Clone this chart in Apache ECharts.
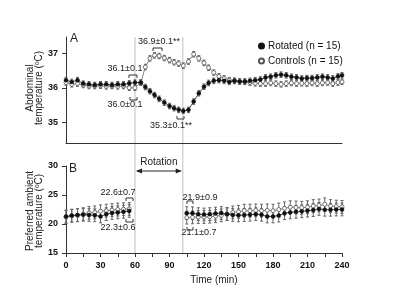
<!DOCTYPE html>
<html>
<head>
<meta charset="utf-8">
<script src="https://cdn.jsdelivr.net/npm/echarts@6/dist/echarts.min.js"></script>
<style>
  html, body { margin: 0; padding: 0; background: #fff; }
  #chart { width: 400px; height: 301px; }
</style>
</head>
<body>
<div id="chart"></div>
<script>
// panel A: abdominal temperature (min)
var timeA = [0, 5, 10, 15, 20, 25, 30, 35, 40, 45, 50, 55, 60,
  65, 69, 73, 77, 81, 85.5, 90, 94, 98, 102,
  106.5, 111, 115.5, 120, 124, 128.5, 133, 137.5, 142, 146.5,
  151, 155.5, 160, 164.5, 169, 173.5, 178, 182.5, 187, 191.5,
  196, 200.5, 205, 209.5, 214, 218.5, 223, 227.5, 232, 236.5, 240]
var rotatedA = [36.22, 36.17, 36.22, 36.12, 36.1, 36.08, 36.1, 36.1, 36.08, 36.1, 36.1, 36.13, 36.15,
  36.15, 36.02, 35.9, 35.79, 35.68, 35.57, 35.47, 35.41, 35.36, 35.33,
  35.36, 35.6, 35.84, 36.03, 36.14, 36.2, 36.22, 36.2, 36.17, 36.2,
  36.18, 36.18, 36.2, 36.22, 36.24, 36.3, 36.32, 36.36, 36.38, 36.36,
  36.32, 36.3, 36.27, 36.28, 36.28, 36.3, 36.32, 36.3, 36.27, 36.33, 36.36]
var controlsA = [36.15, 36.1, 36.12, 36.08, 36.05, 36.05, 36.06, 36.04, 36.05, 36.04, 36.05, 36.0, 36.0,
  36.15, 36.6, 36.85, 36.94, 36.92, 36.86, 36.8, 36.74, 36.7, 36.64,
  36.76, 36.97, 36.85, 36.72, 36.58, 36.44, 36.33, 36.27, 36.22, 36.2,
  36.18, 36.17, 36.15, 36.13, 36.12, 36.12, 36.14, 36.12, 36.1, 36.12,
  36.14, 36.12, 36.13, 36.12, 36.14, 36.12, 36.14, 36.15, 36.12, 36.15, 36.17]
var errA = 0.08

// panel B: preferred ambient temperature, before / after rotation
var timeB1 = [0, 5, 10, 15, 20, 25, 30, 35, 40, 45, 50, 55]
var rotatedB1 = [21.3, 21.45, 21.55, 21.6, 21.55, 21.5, 21.3, 21.7, 21.9, 22.0, 22.1, 22.25]
var controlsB1 = [21.2, 21.4, 21.5, 21.7, 21.9, 22.0, 22.2, 22.3, 22.4, 22.5, 22.55, 22.6]
var timeB2 = [105, 110, 115, 120, 125, 130, 135, 140, 145, 150, 155, 160, 165, 170,
  175, 180, 185, 190, 195, 200, 205, 210, 215, 220, 225, 230, 235, 240]
var rotatedB2 = [21.87, 21.85, 21.7, 21.64, 21.7, 21.8, 21.9, 21.7, 21.55, 21.5, 21.55, 21.6, 21.7, 21.6,
  21.3, 21.3, 21.45, 21.85, 22.0, 22.1, 22.2, 22.3, 22.4, 22.6, 22.45, 22.45, 22.5, 22.5]
var controlsB2 = [21.1, 21.15, 21.2, 21.2, 21.25, 21.35, 21.5, 21.7, 22.0, 22.1, 22.3, 22.3, 22.35, 22.3,
  22.35, 22.3, 22.5, 22.7, 22.9, 22.85, 22.8, 22.9, 23.1, 23.2, 23.4, 23.1, 23.0, 22.95]
var errB = 1.1

var ticksA = [35, 36, 37]
var rotation = [60, 101.5]

var font = 'Liberation Sans, Arial, sans-serif'

function pairs (t, v) {
  return t.map(function (x, i) { return [x, v[i]] })
}
function errPairs (t, v, e) {
  return t.map(function (x, i) { return [x, v[i], e] })
}

function errBar (params, api) {
  var x = api.value(0)
  var y = api.value(1)
  var e = api.value(2)
  var top = api.coord([x, y + e])
  var bot = api.coord([x, y - e])
  var st = { stroke: '#666', lineWidth: 1 }
  return {
    type: 'group',
    children: [
      { type: 'line', shape: { x1: top[0], y1: top[1], x2: bot[0], y2: bot[1] }, style: st },
      { type: 'line', shape: { x1: top[0] - 1.5, y1: top[1], x2: top[0] + 1.5, y2: top[1] }, style: st },
      { type: 'line', shape: { x1: bot[0] - 1.5, y1: bot[1], x2: bot[0] + 1.5, y2: bot[1] }, style: st }
    ]
  }
}

var filled = { color: '#111', borderColor: '#111', borderWidth: 0.5 }
var open = { color: '#fff', borderColor: '#555', borderWidth: 0.8 }

function lineSeries (name, data, xi, style) {
  return {
    name: name,
    type: 'line',
    xAxisIndex: xi,
    yAxisIndex: xi,
    data: data,
    symbol: 'circle',
    symbolSize: 4,
    showSymbol: true,
    itemStyle: style,
    lineStyle: { color: style === filled ? '#222' : '#666', width: 0.8 },
    z: style === filled ? 4 : 3,
    animation: false
  }
}

function errSeries (data, xi) {
  return {
    type: 'custom',
    xAxisIndex: xi,
    yAxisIndex: xi,
    data: data,
    renderItem: errBar,
    z: 2,
    animation: false
  }
}

var axisLabelStyle = { color: '#111', fontWeight: 'bold', fontSize: 9, fontFamily: font }
var axisLine = { show: true, lineStyle: { color: '#333', width: 1 } }

var myChart = echarts.init(document.getElementById('chart'))
myChart.setOption({
  animation: false,
  textStyle: { fontFamily: font },
  grid: [
    { left: 66, right: 58, top: 37, height: 106 },
    { left: 66, right: 58, top: 166, height: 87 }
  ],
  legend: {
    orient: 'vertical',
    left: 253,
    top: 36,
    icon: 'circle',
    itemWidth: 5,
    itemHeight: 5,
    itemGap: 5,
    data: ['Rotated (n = 15)', 'Controls (n = 15)'],
    textStyle: { color: '#111', fontSize: 10, fontFamily: font, padding: [0, 0, 0, -1] }
  },
  xAxis: [
    {
      type: 'value', gridIndex: 0, min: 0, max: 240,
      axisLine: axisLine, axisTick: { show: false }, axisLabel: { show: false },
      splitLine: { show: false }
    },
    {
      type: 'value', gridIndex: 1, min: 0, max: 240, interval: 15,
      axisLine: axisLine,
      axisTick: { show: true, length: 4, lineStyle: { color: '#333' } },
      axisLabel: Object.assign({
        margin: 8,
        formatter: function (v) { return v % 30 === 0 ? v : '' }
      }, axisLabelStyle),
      splitLine: { show: false }
    }
  ],
  yAxis: [
    {
      type: 'value', gridIndex: 0, min: 34.4, max: 37.47,
      axisLine: axisLine,
      axisTick: { show: true, length: 4, customValues: ticksA, lineStyle: { color: '#333' } },
      axisLabel: Object.assign({ margin: 8, customValues: ticksA }, axisLabelStyle),
      splitLine: { show: false }
    },
    {
      type: 'value', gridIndex: 1, min: 15, max: 30, interval: 5,
      axisLine: axisLine,
      axisTick: { show: true, length: 4, lineStyle: { color: '#333' } },
      axisLabel: Object.assign({ margin: 8 }, axisLabelStyle),
      splitLine: { show: false }
    }
  ],
  series: [
    errSeries(errPairs(timeA, controlsA, errA), 0),
    errSeries(errPairs(timeA, rotatedA, errA), 0),
    lineSeries('Controls (n = 15)', pairs(timeA, controlsA), 0, open),
    lineSeries('Rotated (n = 15)', pairs(timeA, rotatedA), 0, filled),
    errSeries(errPairs(timeB1, controlsB1, errB), 1),
    errSeries(errPairs(timeB1, rotatedB1, errB), 1),
    errSeries(errPairs(timeB2, controlsB2, errB), 1),
    errSeries(errPairs(timeB2, rotatedB2, errB), 1),
    lineSeries('Controls (n = 15)', pairs(timeB1, controlsB1), 1, open),
    lineSeries('Rotated (n = 15)', pairs(timeB1, rotatedB1), 1, filled),
    lineSeries('Controls (n = 15)', pairs(timeB2, controlsB2), 1, open),
    lineSeries('Rotated (n = 15)', pairs(timeB2, rotatedB2), 1, filled)
  ]
})

// rotation window lines + annotations
var xa = myChart.convertToPixel({ xAxisIndex: 1 }, rotation[0])
var xb = myChart.convertToPixel({ xAxisIndex: 1 }, rotation[1])
var topA = 37
var botB = 253
var ay = 171

function txt (text, x, y, size, align) {
  return {
    type: 'text', x: x, y: y, z: 10,
    style: { text: text, fill: '#222', font: (size || 9) + 'px ' + font, align: align || 'center', verticalAlign: 'middle' }
  }
}
function yTitle (text, x, y) {
  return {
    type: 'text', x: x, y: y, rotation: Math.PI / 2, z: 10,
    style: { text: text, fill: '#222', font: '10px ' + font, lineHeight: 9, align: 'center', verticalAlign: 'middle' }
  }
}
function bracket (x1, x2, y, up) {
  var d = up ? 3 : -3
  return {
    type: 'polyline', z: 10,
    shape: { points: [[x1, y + d], [x1, y], [x2, y], [x2, y + d]] },
    style: { stroke: '#333', lineWidth: 1, fill: null }
  }
}

myChart.setOption({
  graphic: [
    { type: 'line', z: 0, shape: { x1: xa, y1: topA, x2: xa, y2: botB }, style: { stroke: '#d4d4d4', lineWidth: 1.5 } },
    { type: 'line', z: 0, shape: { x1: xb, y1: topA, x2: xb, y2: botB }, style: { stroke: '#d4d4d4', lineWidth: 1.5 } },
    { type: 'line', z: 10, shape: { x1: xa + 2, y1: ay, x2: xb - 2, y2: ay }, style: { stroke: '#222', lineWidth: 1 } },
    { type: 'polygon', z: 10, shape: { points: [[xa + 1, ay], [xa + 7, ay - 2.5], [xa + 7, ay + 2.5]] }, style: { fill: '#222' } },
    { type: 'polygon', z: 10, shape: { points: [[xb - 1, ay], [xb - 7, ay - 2.5], [xb - 7, ay + 2.5]] }, style: { fill: '#222' } },
    yTitle('Abdominal\ntemperature (ºC)', 35, 88),
    yTitle('Preferred ambient\ntemperature (ºC)', 35, 211),
    txt('Rotation', (xa + xb) / 2, 162, 10),
    txt('A', 70, 39, 12, 'left'),
    txt('B', 69, 169, 12, 'left'),
    txt('Time (min)', 214, 280, 10),
    txt('36.1±0.1', 125, 69),
    bracket(129, 137, 75, true),
    txt('36.0±0.1', 125, 105),
    bracket(130, 137, 100, false),
    txt('36.9±0.1**', 159, 42),
    bracket(153, 162, 48, true),
    txt('35.3±0.1**', 171, 126),
    bracket(177, 184, 119, false),
    txt('22.6±0.7', 118, 193),
    bracket(126, 133, 198, true),
    txt('22.3±0.6', 118, 228),
    bracket(126, 133, 222, false),
    txt('21.9±0.9', 200, 198),
    bracket(187, 193, 201, true),
    txt('21.1±0.7', 199, 233),
    bracket(187, 193, 230, false)
  ]
})
</script>
</body>
</html>
